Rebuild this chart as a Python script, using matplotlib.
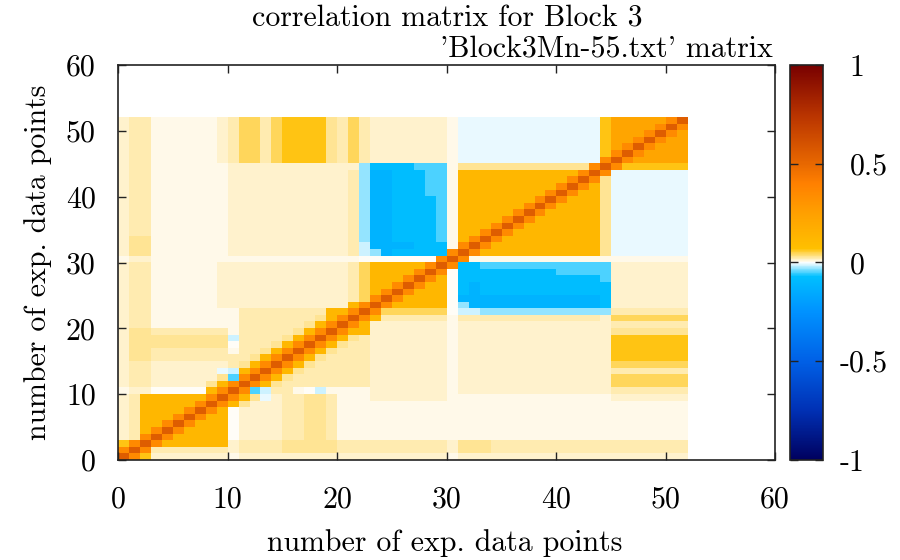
import numpy as np
import matplotlib
matplotlib.use("Agg")
import matplotlib.pyplot as plt
from matplotlib.colors import LinearSegmentedColormap
from matplotlib.transforms import ScaledTranslation

plt.rcParams['font.family'] = ['cmr10', 'DejaVu Serif']
plt.rcParams['axes.unicode_minus'] = False

# correlation levels used in the matrix table
LEVELS = {
    '0': 0.0, '1': 0.005, '2': 0.012, '3': 0.02, '4': 0.03, '5': 0.045,
    '6': 0.065, '7': 0.12, '8': 0.22, '9': 0.35, 'D': 0.55,
    'a': -0.005, 'b': -0.015, 'c': -0.03, 'd': -0.05, 'e': -0.08, 'f': -0.12,
}

# lower triangle of the correlation matrix, row j holds columns 0..j
G7_BASE = "233111111235535666643532222222" + "1" + "a" * 13 + "6"
G5_BASE = "233111111" + "2" + "2" * 11 + "3" + "5"
G6_BASE = "233111111" + "1" + "2" + "222222" + "2222" + "3"
G6_BASE_B = "244111111" + "1" + "2" + "222222" + "2222" + "3"

LOWER_ROWS = [
    "D",
    "9D",
    "69D",
    "239D",
    "2379D",
    "23779D",
    "237779D",
    "2377779D",
    "23777779D",
    "237777779D",
    "12200000" + "79D",
    "23322222" + "479D",
    "233222222" + "4d9D",
    "233222222" + "ab79D",
    "2332222222" + "3479D",
    "2443333333" + "33479D",
    "2443333333" + "133479D",
    "2444444444" + "0333479D",
    "2444444444" + "b3333479D",
    "2443333333" + "133333479D",
    "2331111111" + "1333333479D",
    "2331111111" + "13333333479D",
    "2331111111" + "133333333" + "779D",
    G5_BASE[:21] + "7" + "9D",
    G5_BASE + "9D",
    G5_BASE + "79D",
    G5_BASE + "779D",
    G5_BASE + "7779D",
    G5_BASE + "77779D",
    G5_BASE + "777779D",
    "122" + "1" * 19 + "0" + "000000" + "9D",
    G6_BASE_B + "b" + "cfeeeee" + "9" + "D",
    G6_BASE_B + "b" + "ffffeee" + "1" + "9D",
    G6_BASE_B + "c" + "ffeeeed" + "1" + "79D",
    G6_BASE + "c" + "ffeeeed" + "1" + "779D",
    G6_BASE + "c" + "ffeeeed" + "1" + "7779D",
    G6_BASE + "c" + "ffeeeed" + "1" + "77779D",
    G6_BASE + "c" + "ffeeeed" + "1" + "777779D",
    G6_BASE + "c" + "ffeeeed" + "1" + "7777779D",
    G6_BASE + "c" + "ffeeeed" + "1" + "77777779D",
    G6_BASE + "c" + "ffeeedd" + "1" + "777777779D",
    G6_BASE + "c" + "ffeeedd" + "1" + "7777777779D",
    G6_BASE + "c" + "ffeeedd" + "1" + "77777777779D",
    G6_BASE + "c" + "ffeeedd" + "1" + "777777777779D",
    "233111111" + "1" + "2" + "222222" + "2222" + "2" + "c" + "eeeeddd" + "1" + "4" * 12 + "9D",
    G7_BASE[:44] + "9" + "D",
    G7_BASE + "9D",
    G7_BASE + "89D",
    G7_BASE + "889D",
    G7_BASE + "8889D",
    G7_BASE + "88889D",
    G7_BASE + "888889D",
]

TITLE = "correlation matrix for Block 3"
KEY_TITLE = "'Block3Mn-55.txt' matrix"
XLABEL = "number of exp. data points"
YLABEL = "number of exp. data points"
AXIS_TICKS = [0, 10, 20, 30, 40, 50, 60]
CBAR_TICKS = [-1, -0.5, 0, 0.5, 1]
CBAR_LABELS = ["-1", "-0.5", "0", "0.5", "1"]

# assemble the symmetric matrix
n = len(LOWER_ROWS)
corr = np.zeros((n, n))
for j, row in enumerate(LOWER_ROWS):
    for i, ch in enumerate(row):
        corr[j, i] = LEVELS[ch]
        corr[i, j] = LEVELS[ch]

palette = [
    (-1.0, '#00005e'), (-0.75, '#0030b4'), (-0.5, '#0060e6'),
    (-0.25, '#0092ff'), (-0.07, '#00c0ff'), (0.0, '#ffffff'),
    (0.07, '#ffc000'), (0.25, '#ffa000'), (0.4, '#ff8000'),
    (0.5, '#e86800'), (0.75, '#b83300'), (1.0, '#780000'),
]
cmap = LinearSegmentedColormap.from_list(
    'corr', [((v + 1) / 2, c) for v, c in palette], N=512)

FS = 21.5
W, H = 900, 560
fig = plt.figure(figsize=(W / 100, H / 100), dpi=100)
ax = fig.add_axes([118 / W, 1 - 460 / H, (775 - 118) / W, (460 - 65) / H])
cax = fig.add_axes([790 / W, 1 - 460 / H, 33 / W, (460 - 65) / H])

im = ax.imshow(corr, origin='lower', extent=(0, n, 0, n), cmap=cmap,
               vmin=-1, vmax=1, interpolation='nearest', aspect='auto')
ax.set_xlim(0, 60)
ax.set_ylim(0, 60)
ax.set_xticks(AXIS_TICKS)
ax.set_yticks(AXIS_TICKS)
ax.set_xticklabels([str(t) for t in AXIS_TICKS])
ax.set_yticklabels([str(t) for t in AXIS_TICKS])
ax.tick_params(direction='in', top=True, right=True, length=6, width=1.0,
               labelsize=FS, color='#222222')
ax.tick_params(axis='x', pad=19)
ax.tick_params(axis='y', pad=16)
for s in ax.spines.values():
    s.set_linewidth(1.2)
    s.set_color('#222222')

cb = fig.colorbar(im, cax=cax)
cb.set_ticks(CBAR_TICKS)
cb.set_ticklabels(CBAR_LABELS)
cax.tick_params(direction='in', left=True, right=True, length=6, width=1.0,
                labelsize=FS, pad=19, color='#222222')
cb.outline.set_linewidth(1.2)
cb.outline.set_edgecolor('#222222')
for lab in cax.get_yticklabels():
    if lab.get_text().startswith('-'):
        lab.set_transform(lab.get_transform() +
                          ScaledTranslation(-0.1, 0, fig.dpi_scale_trans))

fig.text(447 / W, 1 - 19 / H, TITLE, ha='center', va='center', fontsize=FS)
fig.text(773 / W, 1 - 49 / H, KEY_TITLE, ha='right', va='center', fontsize=FS)
fig.text(445 / W, 1 - 543 / H, XLABEL, ha='center', va='center', fontsize=FS)
fig.text(38 / W, 1 - 262 / H, YLABEL, ha='center', va='center', fontsize=FS,
         rotation=90)

fig.savefig('out.png', dpi=100)
